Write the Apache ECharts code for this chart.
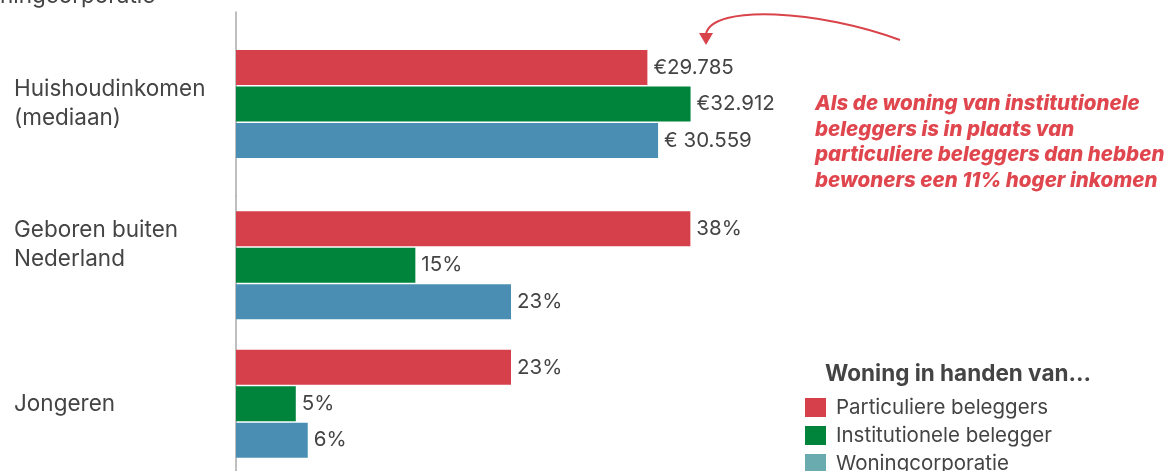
<!DOCTYPE html>
<html>
<head>
<meta charset="utf-8">
<script src="https://cdn.jsdelivr.net/npm/echarts@6/dist/echarts.min.js"></script>
<style>
  html, body { margin: 0; padding: 0; background: #fff; }
  #chart { width: 1176px; height: 471px; }
</style>
</head>
<body>
<div id="chart"></div>
<script>
// data
const seriesNames = ['Particuliere beleggers', 'Institutionele belegger', 'Woningcorporatie']
const incomeCategory = ['Huishoudinkomen\n(mediaan)']
const shareCategories = ['Geboren buiten\nNederland', 'Jongeren']
const incomeValues = [29785, 32912, 30559]
const incomeLabels = ['€29.785', '€32.912', '€ 30.559']
const particuliereShare = [38, 23]
const institutioneleShare = [15, 5]
const corporatieShare = [23, 6]
const annotation = 'Als de woning van institutionele\nbeleggers is in plaats van\nparticuliere beleggers dan hebben\nbewoners een 11% hoger inkomen'

const COLORS = ['#D6404A', '#00843C', '#4A8FB3']
const LEGEND_COLORS = ['#D6404A', '#00843C', '#6AABB0']
const FONT = 'Inter, "Noto Sans", sans-serif'
const TEXT = '#444'

let myChart = echarts.init(document.getElementById('chart'))

const labelStyle = {
  show: true,
  position: 'right',
  distance: 6,
  fontFamily: FONT,
  fontSize: 20.5,
  color: TEXT
}

const shareData = [particuliereShare, institutioneleShare, corporatieShare]

let series = []
seriesNames.forEach((name, i) => {
  series.push({
    name: name,
    type: 'bar',
    xAxisIndex: 1,
    yAxisIndex: 0,
    barWidth: 35,
    barGap: '4%',
    itemStyle: { color: COLORS[i] },
    label: Object.assign({}, labelStyle, { formatter: () => incomeLabels[i] }),
    data: [incomeValues[i]]
  })
})
seriesNames.forEach((name, i) => {
  series.push({
    name: name,
    type: 'bar',
    xAxisIndex: 0,
    yAxisIndex: 1,
    barWidth: 35,
    barGap: '4%',
    itemStyle: { color: COLORS[i] },
    label: Object.assign({}, labelStyle, { formatter: p => p.value + '%' }),
    data: shareData[i]
  })
})

const yAxisBase = {
  type: 'category',
  inverse: true,
  axisLine: { show: true, lineStyle: { color: '#aaa', width: 1.5 } },
  axisTick: { show: false },
  axisLabel: {
    align: 'left',
    margin: 222,
    fontFamily: FONT,
    fontSize: 22.5,
    lineHeight: 29,
    color: TEXT
  }
}

myChart.setOption({
  animation: false,
  title: [{
    text: 'ningcorporatie',
    left: 0,
    top: -15,
    padding: 0,
    textStyle: { fontFamily: FONT, fontSize: 22.5, fontWeight: 'normal', color: TEXT }
  }, {
    text: annotation,
    left: 815,
    top: 91,
    padding: 0,
    textStyle: {
      fontFamily: FONT,
      fontSize: 20.5,
      fontWeight: 800,
      fontStyle: 'italic',
      lineHeight: 25.7,
      color: '#E0464E'
    }
  }, {
    text: 'Woning in handen van...',
    left: 825,
    top: 363,
    padding: 0,
    textStyle: { fontFamily: FONT, fontSize: 22.5, fontWeight: 'bold', color: TEXT }
  }],
  legend: {
    orient: 'vertical',
    left: 805,
    top: 397,
    height: 120,
    padding: 0,
    itemWidth: 21,
    itemHeight: 19,
    itemGap: 7,
    icon: 'rect',
    textStyle: { fontFamily: FONT, fontSize: 20.5, color: TEXT, padding: [0, 0, 0, 5] },
    data: seriesNames.map((n, i) => ({ name: n, itemStyle: { color: LEGEND_COLORS[i] } }))
  },
  grid: [
    { left: 236, top: 12, width: 837, height: 184, outerBoundsMode: 'none' },
    { left: 236, top: 196, width: 837, height: 277, outerBoundsMode: 'none' }
  ],
  xAxis: [
    { type: 'value', gridIndex: 1, min: 0, max: 70, show: false },
    { type: 'value', gridIndex: 0, min: 0, max: 60600, show: false }
  ],
  yAxis: [
    Object.assign({}, yAxisBase, { gridIndex: 0, data: incomeCategory }),
    Object.assign({}, yAxisBase, {
      gridIndex: 1,
      data: shareCategories,
      axisLabel: Object.assign({}, yAxisBase.axisLabel, {
        formatter: v => v === shareCategories[0]
          ? v.split('\n').map(s => '{t|' + s + '}').join('\n') + '\n{gap| }'
          : '{t|' + v + '}',
        rich: {
          t: { fontFamily: FONT, fontSize: 22.5, lineHeight: 29, color: TEXT },
          gap: { fontSize: 10, lineHeight: 41, height: 41 }
        }
      })
    })
  ],
  graphic: [{
    type: 'bezierCurve',
    shape: { x1: 900, y1: 40, cpx1: 820, cpy1: 10, cpx2: 712, cpy2: 4, x2: 706, y2: 34 },
    style: { stroke: '#D9444B', lineWidth: 2, fill: null }
  }, {
    type: 'polygon',
    shape: { points: [[699, 33], [713, 33], [706, 45]] },
    style: { fill: '#D9444B' }
  }],
  series: series
})
</script>
</body>
</html>
